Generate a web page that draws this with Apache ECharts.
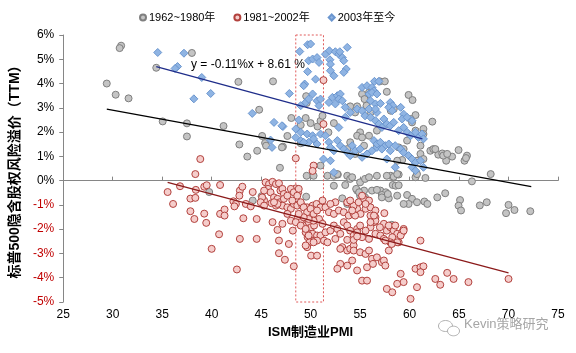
<!DOCTYPE html>
<html>
<head>
<meta charset="utf-8">
<script src="https://cdn.jsdelivr.net/npm/echarts@6/dist/echarts.min.js"></script>
<style>
  html, body { margin: 0; padding: 0; background: #fff; }
  #chart { width: 576px; height: 353px; }
</style>
</head>
<body>
<div id="chart"></div>
<script>
// 图例名称
var seriesNames = ['1962~1980年', '1981~2002年', '2003年至今'];

// 1962~1980年: [ISM制造业PMI, 隐含股权风险溢价(%)]
var pts6280 = [
  [30.85,5.56],[30.7,5.46],[29.4,4.0],[30.3,3.54],[31.6,3.39],[34.4,4.65],[38.0,5.26],[35.05,2.44],
  [37.5,2.36],[37.5,1.82],[41.2,2.25],[42.7,4.07],[44.8,2.92],[42.8,1.49],[43.6,0.99],[44.6,1.23],
  [45.1,1.84],[45.4,1.55],[45.5,1.44],[46.2,4.09],[47.2,1.40],[47.65,1.84],[48.05,2.58],[46.9,0.53],
  [49.5,2.58],[49.6,0.2],[49.0,1.54],[49.6,3.2],[39.75,-0.47],[44.15,-0.82],[45.05,-0.64],[49.55,-0.66],
  [49.55,3.48],[50.0,2.37],[49.0,2.29],[50.7,2.23],[51.0,2.46],[51.2,2.67],[52.35,2.37],[51.8,1.99],
  [54.0,3.06],[54.7,3.06],[55.2,3.57],[55.9,3.63],[55.45,3.36],[55.65,3.09],[54.5,2.81],[56.05,2.81],
  [55.0,1.99],[54.7,1.85],[55.2,1.78],[54.0,1.58],[53.7,1.30],[54.5,1.10],[55.4,1.44],[55.9,1.85],
  [56.7,1.44],[51.7,0.2],[52.35,0.2],[53.7,0.2],[57.0,4.09],[57.5,4.09],[57.7,3.66],[59.9,3.53],
  [60.3,3.32],[58.4,2.95],[58.1,2.88],[60.6,2.70],[60.1,2.54],[60.25,2.40],[62.3,2.43],[56.7,2.06],
  [60.6,2.06],[61.4,2.13],[61.4,1.92],[61.1,1.44],[62.1,1.23],[62.4,1.30],[62.9,1.07],[63.3,1.12],
  [63.7,0.82],[64.3,0.99],[64.95,1.26],[65.8,1.03],[65.55,0.82],[61.1,1.10],[60.75,0.82],[61.4,0.89],
  [59.25,0.85],[58.75,0.82],[59.4,1.30],[58.9,1.37],[56.7,0.2],[58.1,0.2],[58.4,0.16],[60.6,0.14],
  [61.6,0.11],[66.3,-0.03],[62.6,1.30],[63.4,1.03],[65.7,0.93],[68.2,0.27],[62.8,-0.69],[63.6,-0.52],
  [65.1,-0.80],[64.95,-1.03],[65.2,-1.23],[67.1,-1.02],[67.8,-0.89],[70.0,-1.0],[70.6,-1.21],[69.75,-1.34],
  [72.2,-1.26],[54.0,0.07],[55.0,-0.07],[55.5,0.07],[55.9,0.14],[54.7,-0.41],[55.4,-0.41],[55.0,-0.62],
  [55.5,-0.69],[56.2,-0.41],[57.05,-0.41],[57.6,-0.48],[57.2,-0.59],[57.9,-0.73],[58.75,-0.62],[59.75,-0.59],
  [60.25,-0.75],[60.75,-0.89],[59.9,-0.96],[61.5,-0.86],[61.8,-0.96],[58.3,-0.18],[58.6,-0.21],[58.2,-1.82],
  [50.3,0.2],[52.75,0.25],[54.2,0.14],[53.5,-0.18],[52.35,-0.21],[54.6,-0.34],[54.9,-0.48],[53.2,-0.73],
  [53.7,-0.96],[56.7,-0.38],[57.2,-0.69],[57.8,-0.55],[58.9,-0.19],[59.4,-0.96],[57.7,0.2],[58.9,0.25],
  [63.8,1.10],[47.1,1.37],[59.75,1.65],[51.0,0.62],[52.7,0.27],[58.75,0.27],[60.75,0.27]
];

// 1981~2002年
var pts8102 = [
  [38.85,0.89],[38.35,0.27],[35.55,-0.47],[36.1,-0.96],[36.8,-0.23],[37.85,-0.74],[38.35,-0.71],[38.4,-0.38],
  [38.25,-1.58],[37.85,-1.26],[39.25,-0.25],[39.5,-0.19],[39.25,-1.36],[39.45,-1.74],[40.0,-2.81],[40.85,-0.18],
  [40.85,-1.37],[41.3,-1.19],[41.3,-1.44],[40.75,-2.21],[42.55,-3.66],[42.2,-0.85],[42.45,-0.96],[42.3,-1.06],
  [42.85,-0.41],[43.1,-0.25],[42.8,-0.62],[43.2,-1.55],[42.85,-2.40],[43.45,-0.96],[43.95,-1.06],[44.15,-0.47],
  [44.55,-1.58],[44.55,-2.40],[45.45,-0.07],[45.8,-0.14],[46.15,-0.05],[46.5,-0.14],[46.8,-0.11],[45.7,-0.34],
  [45.95,-0.48],[45.3,-0.82],[46.3,-0.69],[46.65,-0.75],[46.9,-0.89],[46.95,-0.41],[46.05,-0.93],[46.5,-1.03],
  [47.15,-1.03],[47.65,-1.10],[48.0,-1.16],[48.3,-0.96],[48.65,-1.03],[49.15,-1.03],[49.65,-1.10],[50.2,-1.03],
  [50.6,-0.96],[46.15,-1.71],[47.15,-1.78],[46.65,-2.03],[48.0,-1.65],[48.2,-2.06],[47.8,-2.61],[47.4,-3.26],
  [46.8,-2.99],[48.3,-3.53],[46.8,-2.47],[48.5,-0.32],[48.75,-0.48],[48.0,-0.34],[47.65,-1.37],[48.7,-1.51],
  [49.0,-1.71],[49.3,-1.85],[49.8,-1.71],[50.05,-1.92],[50.35,-1.85],[49.5,-2.13],[49.7,-2.33],[49.9,-2.54],
  [50.2,-2.19],[49.65,-2.74],[50.05,-3.09],[50.65,-3.09],[50.4,-2.47],[50.65,-2.26],
  [51.0,-1.10],[50.85,-1.58],[51.2,-1.78],[51.0,-2.26],[51.35,-2.47],[51.7,-2.54],[51.5,-2.13],[52.0,-2.06],
  [52.35,-1.85],[52.7,-1.99],[53.0,-2.19],[53.35,-1.71],[53.7,-1.85],[54.0,-2.06],[54.35,-2.26],[54.7,-1.99],
  [55.0,-1.85],[51.2,-0.82],[51.5,-1.10],[51.85,-1.30],[52.35,-1.37],[52.85,-1.23],[53.35,-1.30],[53.85,-1.44],
  [54.35,-1.37],[54.7,-1.16],[54.2,-1.03],[53.7,-0.89],[52.5,-0.89],[52.0,-0.96],[53.0,-3.43],[52.7,-3.63],
  [53.7,-3.50],[54.7,-3.70],[53.2,-2.74],[53.7,-2.88],[54.0,-2.81],[54.35,-2.67],
  [45.3,-0.41],[47.15,-0.34],[47.3,-0.55],[47.3,-0.75],[47.65,-0.62],[48.3,-0.48],[48.8,-0.34],[48.65,-0.62],
  [48.15,-0.82],[46.65,-0.96],[46.3,-0.89],[45.1,-0.69],[44.95,-0.89],[45.3,-1.03],[49.0,-0.89],[49.3,-1.10],
  [49.65,-1.30],[50.0,-1.16],[50.3,-1.37],[50.65,-1.23],[50.3,-1.65],[49.8,-1.58],[49.3,-1.51],[48.8,-1.37],
  [48.5,-1.71],[49.0,-1.85],[49.5,-1.99],[49.8,-2.26],[50.65,-2.47],[49.5,-2.67],[50.3,-2.54],
  [54.35,-1.03],[54.85,-0.89],[55.4,-0.75],[55.9,-0.82],[55.55,-1.16],[55.05,-1.37],[54.5,-1.44],[54.2,-1.23],
  [56.05,-1.10],[56.55,-1.23],[56.05,-1.44],[56.55,-1.51],[55.55,-0.96],[54.0,-0.82],[55.2,-0.62],
  [56.4,-1.71],[56.05,-1.92],[55.55,-2.06],[54.7,-2.13],[55.2,-2.33],[55.9,-2.40],[56.55,-2.19],[57.05,-2.26],
  [57.4,-2.40],[57.7,-2.06],[58.05,-1.92],[58.4,-2.06],[58.75,-2.19],[59.25,-2.13],[59.4,-1.99],[59.1,-2.26],
  [58.25,-2.33],[58.05,-2.54],[57.55,-2.47],[57.4,-1.78],[57.9,-1.85],[58.55,-1.85],[58.9,-2.54],[61.1,-2.47],
  [54.35,-2.88],[55.0,-2.95],[55.55,-3.02],[55.9,-2.88],[56.2,-3.22],[56.7,-3.16],[57.2,-3.36],[57.4,-3.29],
  [57.55,-3.50],[57.9,-2.88],[55.7,-3.57],[55.2,-4.12],[55.7,-4.12],[57.7,-4.46],[58.25,-4.60],[58.75,-4.25],
  [59.4,-4.18],[59.1,-3.84],[60.1,-4.87],[60.6,-3.63],[61.1,-3.57],[61.4,-3.53],[60.75,-4.39],[62.6,-4.05],
  [63.1,-4.29],[63.8,-3.80],[64.45,-4.05],[65.95,-4.18],[61.1,-3.77],
  [70.0,-4.05],[56.3,-3.43],[54.2,-3.29],[53.0,-2.81],[52.5,-2.40],[53.7,-2.44],[54.35,-2.44],[54.7,-2.30],
  [57.45,-1.34],[59.4,-2.06],[58.75,-2.54],[58.2,-2.61],[57.0,-1.92],[56.55,-1.65],[56.4,-1.44],[56.05,-1.71],
  [50.3,0.62],[50.2,0.40],[48.5,0.92],[51.3,4.14],[51.3,2.33]
];

// 2003年至今
var pts03 = [
  [34.55,5.28],[37.2,5.25],[36.55,4.70],[36.3,4.62],[39.0,4.25],[39.9,3.59],[38.2,3.37],[44.1,2.77],
  [46.3,2.40],[47.2,2.23],[47.85,3.59],[45.95,1.67],[46.1,1.37],[48.5,2.13],[48.9,5.32],[49.7,5.60],
  [49.4,3.98],[48.8,2.50],[49.0,1.65],
  [50.0,5.63],[49.8,4.94],[50.2,5.01],[50.65,5.07],[50.85,4.87],[49.7,4.49],[51.5,5.21],[51.9,5.35],
  [52.5,5.31],[52.85,5.21],[53.2,5.07],[52.95,5.31],[51.95,4.98],[52.0,4.80],[53.7,5.49],[52.0,4.53],
  [53.35,4.94],[53.6,4.60],[53.35,4.46],[52.35,4.32],[50.5,4.18],[49.3,3.91],
  [49.5,3.22],[50.2,3.57],[49.8,3.36],[49.0,3.09],[50.65,3.29],[50.85,3.09],[51.0,3.36],[51.85,3.22],
  [52.2,3.43],[52.7,3.50],[53.0,3.57],[52.85,3.36],[53.2,3.29],[52.5,3.16],[53.5,3.02],[54.0,2.81],
  [55.2,3.84],[55.7,3.91],[56.2,3.84],[56.4,3.70],[55.9,3.57],
  [54.7,2.95],[55.2,2.88],[55.9,2.95],[55.5,2.67],[56.55,3.16],[56.7,2.81],[56.05,2.61],[53.5,2.61],
  [52.85,2.19],[47.1,2.26],
  [49.0,1.99],[48.5,1.78],[49.65,1.92],[50.2,1.85],[49.8,1.58],[50.3,1.72],[50.65,1.51],[51.0,1.92],
  [49.3,1.58],[51.5,1.85],[51.85,1.58],[52.0,1.37],[52.35,1.23],[52.7,1.65],[53.0,1.44],[53.35,1.30],
  [53.7,1.16],[54.2,1.44],[54.5,1.23],[55.0,1.30],[54.0,1.03],[55.2,0.96],[55.7,1.10],[56.2,1.23],
  [56.7,1.37],[51.3,0.89],[52.0,0.82],[52.35,0.34],
  [56.45,4.09],[56.9,4.09],[56.2,3.63],[56.7,3.57],[56.05,3.29],[56.55,2.95],[57.05,3.18],[58.05,3.22],
  [58.3,3.09],[57.9,3.02],[58.25,2.88],[59.1,3.02],[59.4,2.74],[59.25,2.54],[59.75,2.61],[60.25,2.47],
  [56.55,2.47],[56.9,2.33],[57.4,2.54],[57.7,2.33],[57.2,2.19],[58.05,2.26],[58.4,2.40],[58.9,2.06],
  [59.4,2.19],[59.75,1.99],[60.1,1.85],[60.6,1.99],[60.9,1.78],[61.25,1.92],[61.4,1.72],
  [56.4,1.65],[56.7,1.51],[57.05,1.58],[57.55,1.44],[57.2,1.30],[57.9,1.51],[58.05,1.23],[58.55,1.44],
  [59.1,1.30],[59.4,1.16],[59.9,1.03],[60.25,0.89],[60.6,0.75],[61.1,0.82],[61.4,0.55],[60.25,0.55],
  [60.6,0.41],[58.55,0.55],[57.7,0.89]
];

// 趋势线: 斜率, 截距, x起止
var trendSlope = [-0.0746, -0.1083, -0.1108];
var trendIntercept = [5.143, 3.78, 8.51];
var trendRange = [[29.4, 72.3], [35.55, 70.0], [34.4, 61.3]];
var trendEquation = 'y = -0.11%x + 8.61 %';

// 虚线框 (PMI 48.5~51.3)
var boxRange = [[48.5, 6.0], [51.3, -5.15]];

var xTicks = { min: 25, max: 75, interval: 5 };
var yTicks = { min: -5, max: 6, interval: 1 };

var pointColors = [
  { color: '#c4c4c4', borderColor: '#7f7f7f' },
  { color: '#f5cdcb', borderColor: '#b2413d' },
  { color: '#8fb4e3', borderColor: '#6b96cf' }
];
var lineColors = ['#000000', '#8b1a1a', '#1f2d8a'];

function trendData(i) {
  return trendRange[i].map(function (x) {
    return [x, +(trendSlope[i] * x + trendIntercept[i]).toFixed(3)];
  });
}

var fontFam = 'Liberation Sans, Arial, Noto Sans CJK SC';
var chart = echarts.init(document.getElementById('chart'), null, { renderer: 'canvas' });

var option = {
  animation: false,
  backgroundColor: '#ffffff',
  textStyle: { fontFamily: fontFam },
  grid: { left: 62, right: 18, top: 35, bottom: 51, containLabel: false },
  legend: {
    data: seriesNames,
    top: 7,
    left: 134,
    itemGap: 18,
    itemWidth: 6,
    itemHeight: 6,
    textStyle: { fontSize: 11, color: '#000', fontFamily: fontFam, padding: [0, 0, 0, -2] }
  },
  xAxis: [
    {
      type: 'value', min: xTicks.min, max: xTicks.max, interval: xTicks.interval,
      position: 'bottom',
      axisLine: { show: true, onZero: true, lineStyle: { color: '#868686', width: 1 } },
      axisTick: { show: true, inside: true, length: 4, lineStyle: { color: '#868686' } },
      axisLabel: { show: false },
      splitLine: { show: false }
    },
    {
      type: 'value', min: xTicks.min, max: xTicks.max, interval: xTicks.interval,
      position: 'bottom',
      axisLine: { show: false, onZero: false },
      axisTick: { show: false },
      axisLabel: { show: true, margin: 7, fontSize: 12, color: '#000', fontFamily: fontFam },
      splitLine: { show: false },
      name: 'ISM制造业PMI',
      nameLocation: 'middle',
      nameGap: 23,
      nameTextStyle: { fontSize: 13, fontWeight: 'bold', color: '#000', fontFamily: fontFam }
    }
  ],
  yAxis: {
    type: 'value', min: yTicks.min, max: yTicks.max, interval: yTicks.interval,
    axisLine: { show: true, lineStyle: { color: '#868686', width: 1 } },
    axisTick: { show: true, length: 4, lineStyle: { color: '#868686' } },
    axisLabel: {
      margin: 9, fontSize: 12, fontFamily: fontFam,
      formatter: function (v) { return v + '%'; },
      color: function (v) { return v < 0 ? '#c00000' : '#000000'; }
    },
    splitLine: { show: false },
    name: '标普500隐含股权风险溢价（TTM）',
    nameLocation: 'middle',
    nameRotate: 90,
    nameGap: 31,
    nameTextStyle: { fontSize: 14, fontWeight: 'bold', color: '#000', fontFamily: fontFam }
  },
  graphic: [
    {
      type: 'text', left: 191, top: 59, silent: true,
      style: { text: trendEquation, fill: '#000', font: '12px ' + fontFam }
    },
    {
      type: 'group', left: 436, top: 318, silent: true,
      children: [
        { type: 'ellipse', shape: { cx: 7, cy: 6, rx: 7, ry: 5.5 }, style: { fill: 'none', stroke: '#b0b0b0', lineWidth: 1 } },
        { type: 'ellipse', shape: { cx: 15, cy: 11, rx: 6, ry: 4.8 }, style: { fill: '#fff', stroke: '#b0b0b0', lineWidth: 1 } }
      ]
    },
    {
      type: 'text', left: 464, top: 318, silent: true,
      style: { text: 'Kevin策略研究', fill: '#a6a6a6', font: '13px ' + fontFam }
    }
  ],
  series: [
    {
      name: seriesNames[0], type: 'scatter', symbol: 'circle', symbolSize: 7,
      data: pts6280,
      itemStyle: { color: pointColors[0].color, borderColor: pointColors[0].borderColor, borderWidth: 1, opacity: 1 }
    },
    {
      name: seriesNames[1], type: 'scatter', symbol: 'circle', symbolSize: 7,
      data: pts8102,
      itemStyle: { color: pointColors[1].color, borderColor: pointColors[1].borderColor, borderWidth: 1, opacity: 1 }
    },
    {
      name: seriesNames[2], type: 'scatter', symbol: 'diamond', symbolSize: 8,
      data: pts03,
      itemStyle: { color: pointColors[2].color, borderColor: pointColors[2].borderColor, borderWidth: 1, opacity: 1 }
    },
    {
      name: 'box', type: 'line', data: [], clip: false, silent: true,
      markArea: {
        silent: true,
        itemStyle: { color: 'rgba(0,0,0,0)', borderColor: '#e05a5a', borderWidth: 1, borderType: [2, 2] },
        data: [[{ coord: boxRange[0] }, { coord: boxRange[1] }]]
      }
    },
    {
      name: 'trend1', type: 'line', data: trendData(0), symbol: 'none', silent: true, z: 5,
      lineStyle: { color: lineColors[0], width: 1.3 }
    },
    {
      name: 'trend2', type: 'line', data: trendData(1), symbol: 'none', silent: true, z: 5,
      lineStyle: { color: lineColors[1], width: 1.3 }
    },
    {
      name: 'trend3', type: 'line', data: trendData(2), symbol: 'none', silent: true, z: 5,
      lineStyle: { color: lineColors[2], width: 1.3 }
    }
  ]
};

chart.setOption(option);
</script>
</body>
</html>
